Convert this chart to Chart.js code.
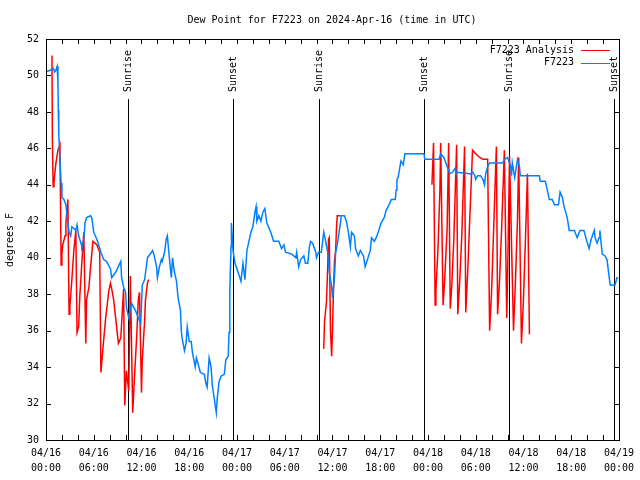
<!DOCTYPE html>
<html>
<head>
<meta charset="utf-8">
<title>Dew Point for F7223</title>
<script src="https://cdn.jsdelivr.net/npm/chart.js@4.4.1/dist/chart.umd.min.js"></script>
<style>
  html, body { margin: 0; padding: 0; background: #fff; }
  canvas { display: block; }
</style>
</head>
<body>
<canvas id="chart" width="640" height="480"></canvas>
<script>
// [hours since 04/16 00:00 UTC, dew point in deg F]
const stationObs = [
  [0,50.2],[0.6,50.3],[0.9,50.4],[1.1,50.2],[1.25,50.3],[1.4,50.5],[1.5,49.6],[1.55,48.1],[1.6,46.8],[1.75,45.4],
  [1.9,44.1],[2.0,43.3],[2.25,43.2],[2.5,42.9],[2.6,42.5],[2.75,41.9],[2.9,41.4],[3.1,41.2],[3.25,41.7],[3.5,41.6],
  [3.75,41.5],[3.9,41.8],[4.1,41.2],[4.4,40.8],[4.5,40.6],[4.75,41.0],[4.9,41.9],[5.1,42.2],[5.6,42.3],[5.75,42.2],
  [6.0,41.4],[6.4,41.0],[6.9,40.3],[7.25,39.9],[7.6,39.8],[8.1,39.4],[8.25,38.9],[8.75,39.2],[9.4,39.8],[9.5,38.9],
  [9.75,38.4],[10.0,38.1],[10.1,37.3],[10.4,36.7],[10.75,37.5],[11.25,37.1],[11.6,36.7],[11.9,36.4],[12.1,38.5],[12.4,38.8],
  [12.75,40.0],[13.25,40.3],[13.4,40.4],[13.6,40.1],[13.9,39.5],[14.0,38.9],[14.25,39.5],[14.5,39.9],[14.6,39.8],[14.9,40.3],
  [15.1,41.0],[15.25,41.2],[15.5,40.0],[15.75,38.9],[15.9,40.0],[16.1,39.3],[16.4,38.7],[16.6,37.8],[16.9,37.1],[17.0,36.0],
  [17.1,35.6],[17.4,34.9],[17.6,35.3],[17.75,36.2],[18.0,35.4],[18.25,35.4],[18.4,34.8],[18.75,34.0],[18.9,34.5],[19.1,34.2],
  [19.4,33.7],[19.9,33.6],[20.1,33.1],[20.25,32.9],[20.5,34.5],[20.75,34.0],[20.9,33.0],[21.1,32.4],[21.4,31.5],[21.5,32.2],
  [21.75,33.2],[22.0,33.5],[22.4,33.6],[22.6,34.4],[22.9,34.6],[23.0,35.9],[23.1,38.2],[23.25,40.6],[23.3,41.9],[23.5,40.4],
  [23.75,39.7],[24.0,39.4],[24.5,38.7],[24.75,39.7],[25.0,38.8],[25.25,40.4],[25.5,40.9],[25.75,41.4],[26.0,41.7],[26.25,42.5],
  [26.4,42.8],[26.5,42.0],[26.75,42.3],[27.0,42.0],[27.25,42.5],[27.5,42.7],[27.75,41.9],[28.25,41.4],[28.6,40.9],[29.25,40.9],
  [29.6,40.5],[29.9,40.7],[30.1,40.3],[30.9,40.2],[31.4,40.0],[31.5,40.3],[31.75,39.5],[32.0,39.9],[32.4,40.1],[32.6,39.7],
  [32.9,39.7],[33.1,40.6],[33.25,40.9],[33.5,40.8],[33.9,40.3],[34.0,40.0],[34.25,40.3],[34.6,40.3],[34.9,41.4],[35.1,41.0],
  [35.4,40.3],[35.6,39.2],[35.9,38.4],[36.0,37.8],[36.25,38.9],[36.4,40.3],[36.6,40.7],[37.0,41.9],[37.1,42.3],[37.5,42.3],
  [37.75,42.0],[38.0,41.4],[38.25,40.6],[38.4,41.4],[38.75,41.2],[38.9,40.5],[39.25,40.1],[39.5,40.4],[39.9,40.1],[40.1,39.5],
  [40.4,39.9],[40.75,40.4],[40.9,41.1],[41.25,40.9],[41.5,41.1],[41.9,41.6],[42.1,41.9],[42.5,42.2],[42.75,42.6],[43.1,42.9],
  [43.4,43.2],[43.9,43.2],[44.0,43.7],[44.1,44.3],[44.25,44.4],[44.6,45.3],[44.9,45.1],[45.1,45.7],[47.5,45.7],[47.6,45.4],
  [49.4,45.4],[49.6,45.7],[50.0,45.5],[50.25,45.2],[50.75,44.6],[51.1,44.7],[51.4,44.9],[51.5,44.7],[53.4,44.6],[53.6,44.7],
  [53.9,44.5],[54.0,44.3],[54.25,44.5],[54.6,44.5],[54.9,44.3],[55.1,44.0],[55.25,44.6],[55.5,45.0],[55.75,45.2],[57.4,45.2],
  [57.6,45.4],[58.0,45.5],[58.4,45.0],[58.5,44.5],[58.6,45.2],[58.9,44.4],[59.25,45.4],[59.5,45.0],[59.6,44.5],[62.0,44.5],
  [62.1,44.2],[62.75,44.2],[63.0,43.7],[63.25,43.2],[63.6,43.2],[63.9,42.9],[64.4,42.9],[64.6,43.6],[64.9,43.3],[65.1,42.8],
  [65.5,42.2],[65.75,41.5],[66.4,41.5],[66.75,41.1],[67.1,41.5],[67.6,41.5],[67.9,41.0],[68.25,40.5],[68.5,41.0],[68.9,41.5],
  [69.0,41.1],[69.25,40.8],[69.5,41.1],[69.6,41.5],[69.9,40.2],[70.25,40.1],[70.5,39.9],[70.75,39.0],[70.9,38.5],[71.5,38.5],
  [71.75,38.9],[71.9,38.9]
];

// analysis has gaps (null)
const analysisObs = [
  [0.75,51.1],[0.8,46.5],[0.9,43.9],[1.0,44.1],[1.1,44.6],[1.25,45.2],[1.5,45.9],[1.75,46.2],[1.9,39.6],[2.0,40.2],
  [2.1,40.7],[2.4,41.2],[2.5,41.9],[2.75,43.2],[2.9,36.9],[3.0,37.3],[3.25,38.8],[3.5,40.4],[3.75,41.5],[3.9,35.9],
  [4.1,36.2],[4.25,37.9],[4.5,39.7],[4.75,41.4],[5.0,35.3],[5.1,37.7],[5.4,38.4],[5.6,39.5],[5.9,40.9],[6.4,40.7],
  [6.75,40.3],[6.9,33.7],[7.0,34.2],[7.25,35.5],[7.5,36.7],[7.9,38.2],[8.1,38.6],[8.25,38.3],[8.5,37.7],[8.75,36.7],
  [9.1,35.3],[9.4,35.6],[9.75,38.3],[9.9,31.9],[10.1,33.8],[10.4,32.7],[10.6,39.0],[10.9,31.5],[11.1,33.3],[11.4,35.7],
  [11.6,37.7],[11.75,38.1],[12.0,32.6],[12.1,34.4],[12.4,36.6],[12.5,37.7],[12.75,38.6],[12.9,38.8],
  [20,null],
  [34.9,35.0],[35.0,36.5],[35.25,37.6],[35.4,39.5],[35.5,41.0],[35.6,41.1],[35.75,36.0],[35.9,34.6],[36.0,36.0],[36.1,37.8],
  [36.25,39.8],[36.4,40.4],[36.5,41.6],[36.6,42.3],[37.0,42.3],
  [42,null],
  [48.5,44.0],[48.7,46.3],[48.9,37.4],[49.0,38.2],[49.25,40.4],[49.5,43.7],[49.6,46.3],[49.9,37.4],[50.1,38.8],[50.4,41.5],
  [50.6,46.3],[50.8,37.2],[51.0,38.5],[51.25,41.0],[51.6,46.2],[51.75,36.9],[52.0,38.8],[52.25,41.2],[52.6,46.1],[52.75,37.0],
  [53.0,39.3],[53.25,42.1],[53.6,45.9],[54.0,45.7],[54.5,45.5],[54.9,45.4],[55.5,45.4],[55.75,36.0],[56.0,38.2],[56.25,41.5],
  [56.6,46.1],[56.75,36.9],[57.0,38.8],[57.25,41.5],[57.6,45.9],[57.9,36.7],[58.0,38.8],[58.25,45.6],[58.75,36.0],[59.0,38.8],
  [59.25,42.1],[59.4,45.5],[59.75,35.3],[60.0,37.7],[60.25,41.0],[60.5,44.6],[60.75,35.8]
];

const sunriseHours = [10.3, 34.3, 58.2];
const sunsetHours = [23.5, 47.5, 71.4];

const xTickDays = ['04/16', '04/16', '04/16', '04/16', '04/17', '04/17', '04/17', '04/17', '04/18', '04/18', '04/18', '04/18', '04/19'];
const xTickTimes = ['00:00', '06:00', '12:00', '18:00', '00:00', '06:00', '12:00', '18:00', '00:00', '06:00', '12:00', '18:00', '00:00'];

const FONT = "'DejaVu Sans Mono', 'Liberation Mono', monospace";
const STATION_COLOR = '#0080ff';
const ANALYSIS_COLOR = '#ff0000';

// gnuplot-ish frame, inward ticks, sun markers, legend, titles
const gnuplotDecor = {
    id: 'gnuplotDecor',
    beforeDatasetsDraw(chart) {
        const { ctx, chartArea: a, scales: { x } } = chart;
        ctx.save();
        ctx.strokeStyle = '#000';
        ctx.lineWidth = 1;
        [...sunriseHours, ...sunsetHours].forEach(h => {
            const px = Math.round(x.getPixelForValue(h)) + 0.5;
            ctx.beginPath();
            ctx.moveTo(px, a.top + 60);
            ctx.lineTo(px, a.bottom);
            ctx.stroke();
        });
        ctx.restore();
    },
    afterDatasetsDraw(chart) {
        const { ctx, chartArea: a, scales: { x, y } } = chart;
        ctx.save();
        ctx.strokeStyle = '#000';
        ctx.lineWidth = 1;

        // frame
        ctx.strokeRect(Math.round(a.left) + 0.5, Math.round(a.top) + 0.5,
            Math.round(a.right - a.left), Math.round(a.bottom - a.top));

        // ticks
        ctx.beginPath();
        x.ticks.forEach(t => {
            const px = Math.round(x.getPixelForValue(t.value)) + 0.5;
            ctx.moveTo(px, a.bottom); ctx.lineTo(px, a.bottom - 5);
            ctx.moveTo(px, a.top); ctx.lineTo(px, a.top + 5);
        });
        y.ticks.forEach(t => {
            const py = Math.round(y.getPixelForValue(t.value)) + 0.5;
            ctx.moveTo(a.left, py); ctx.lineTo(a.left + 5, py);
            ctx.moveTo(a.right, py); ctx.lineTo(a.right - 5, py);
        });
        ctx.stroke();

        ctx.fillStyle = '#000';
        ctx.font = '10px ' + FONT;

        // sunrise / sunset labels
        const sunLabel = (h, text) => {
            const px = x.getPixelForValue(h);
            ctx.save();
            ctx.translate(px + 0.5, a.top + 53);
            ctx.rotate(-Math.PI / 2);
            ctx.textAlign = 'left';
            ctx.textBaseline = 'middle';
            ctx.fillText(text, 0, 0);
            ctx.restore();
        };
        sunriseHours.forEach(h => sunLabel(h, 'Sunrise'));
        sunsetHours.forEach(h => sunLabel(h, 'Sunset'));

        // legend
        const legend = [['F7223 Analysis', ANALYSIS_COLOR], ['F7223', STATION_COLOR]];
        legend.forEach(([label, color], i) => {
            const ly = a.top + 11 + i * 12.5;
            ctx.textAlign = 'right';
            ctx.textBaseline = 'middle';
            ctx.fillStyle = '#000';
            ctx.fillText(label, 574, ly);
            ctx.strokeStyle = color;
            ctx.lineWidth = 1;
            ctx.beginPath();
            ctx.moveTo(581, Math.round(ly) + 0.5);
            ctx.lineTo(610, Math.round(ly) + 0.5);
            ctx.stroke();
        });

        // title
        ctx.fillStyle = '#000';
        ctx.textAlign = 'center';
        ctx.textBaseline = 'middle';
        ctx.fillText('Dew Point for F7223 on 2024-Apr-16 (time in UTC)', 332, 20);

        // y axis title
        ctx.save();
        ctx.translate(10, 240);
        ctx.rotate(-Math.PI / 2);
        ctx.fillText('degrees F', 0, 0);
        ctx.restore();

        ctx.restore();
    }
};

const toPoints = pairs => pairs.map(([h, v]) => ({ x: h, y: v }));

new Chart(document.getElementById('chart'), {
    type: 'line',
    data: {
        datasets: [
            {
                label: 'F7223',
                data: toPoints(stationObs),
                borderColor: STATION_COLOR,
                borderWidth: 1.5,
                pointRadius: 0,
                tension: 0,
                fill: false
            },
            {
                label: 'F7223 Analysis',
                data: toPoints(analysisObs),
                borderColor: ANALYSIS_COLOR,
                borderWidth: 1.5,
                pointRadius: 0,
                tension: 0,
                fill: false,
                spanGaps: false
            }
        ]
    },
    options: {
        responsive: false,
        animation: false,
        devicePixelRatio: 1,
        layout: { padding: { top: 39, right: 18, left: 0, bottom: 0 } },
        plugins: {
            legend: { display: false },
            tooltip: { enabled: false }
        },
        scales: {
            x: {
                type: 'linear',
                min: 0,
                max: 72,
                grid: { display: false, drawTicks: false, tickLength: 0 },
                border: { display: false },
                afterFit(scale) { scale.height = 40; },
                ticks: {
                    stepSize: 2,
                    autoSkip: false,
                    maxRotation: 0,
                    minRotation: 0,
                    padding: 6,
                    color: '#000',
                    font: { family: FONT, size: 10, lineHeight: 1.5 },
                    callback(value) {
                        if (value % 6 !== 0) return '';
                        const i = value / 6;
                        return [xTickDays[i], xTickTimes[i]];
                    }
                }
            },
            y: {
                min: 30,
                max: 52,
                grid: { display: false, drawTicks: false, tickLength: 0 },
                border: { display: false },
                afterFit(scale) { scale.width = 46; },
                ticks: {
                    stepSize: 2,
                    padding: 7,
                    color: '#000',
                    font: { family: FONT, size: 10 }
                }
            }
        }
    },
    plugins: [gnuplotDecor]
});
</script>
</body>
</html>
